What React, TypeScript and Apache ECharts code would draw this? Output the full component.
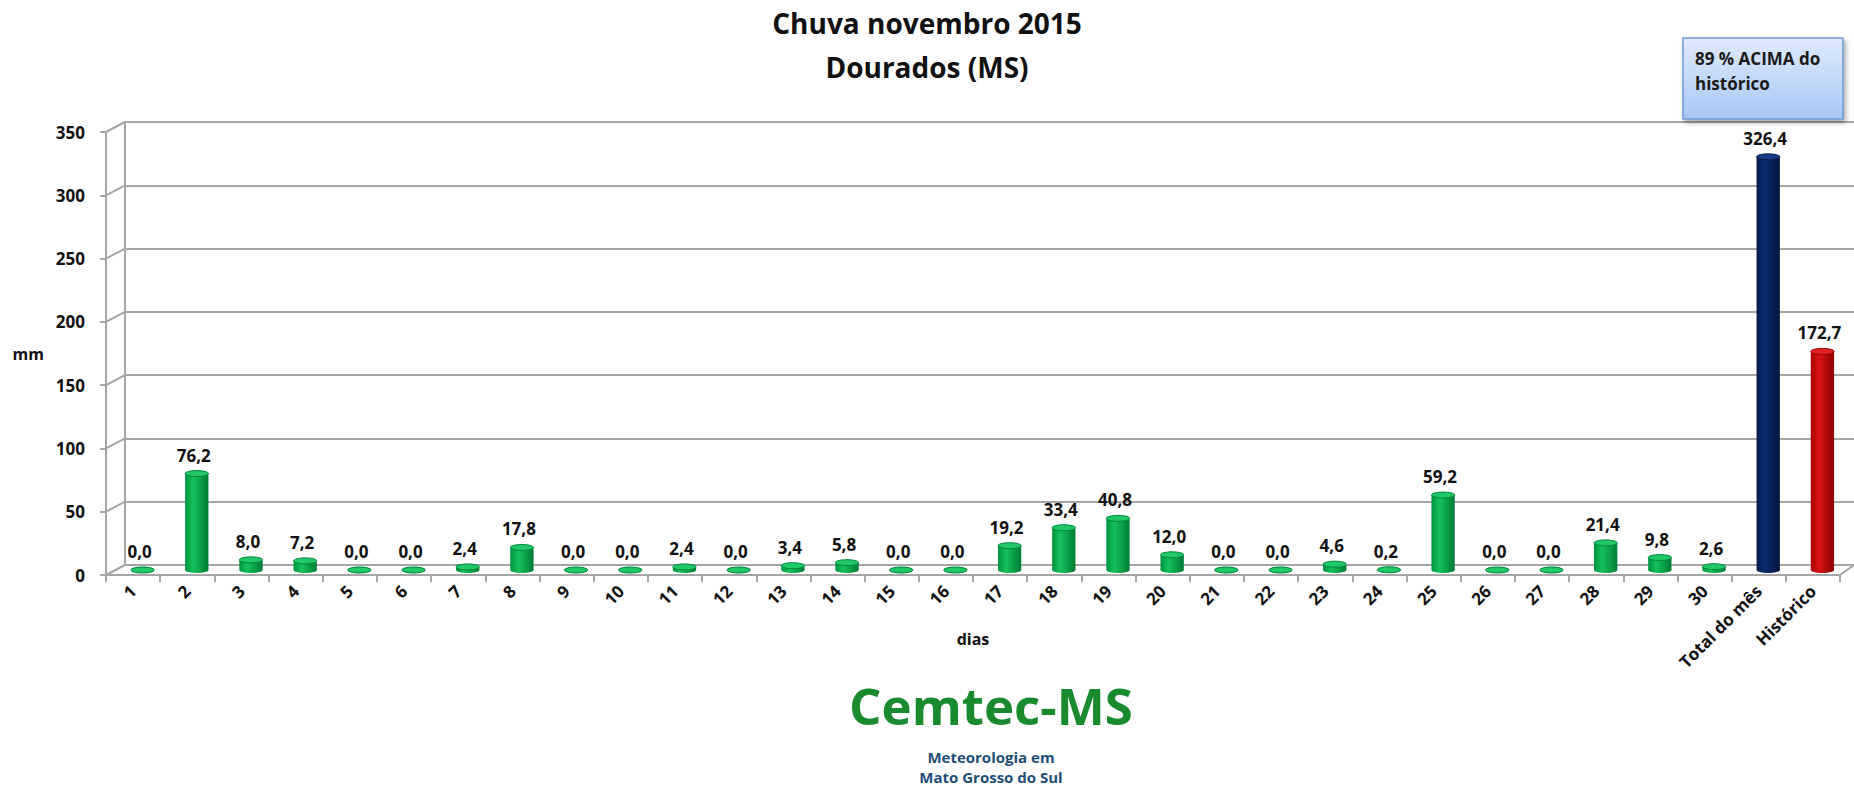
import React, { useEffect, useRef } from "react";
import * as echarts from "echarts";

const categories = [
  "1","2","3","4","5","6","7","8","9","10","11","12","13","14","15",
  "16","17","18","19","20","21","22","23","24","25","26","27","28","29","30",
  "Total do mês","Histórico",
];
const dailyRain = [
  0.0, 76.2, 8.0, 7.2, 0.0, 0.0, 2.4, 17.8, 0.0, 0.0, 2.4, 0.0, 3.4, 5.8, 0.0,
  0.0, 19.2, 33.4, 40.8, 12.0, 0.0, 0.0, 4.6, 0.2, 59.2, 0.0, 0.0, 21.4, 9.8, 2.6,
];
const monthTotal = 326.4;
const historical = 172.7;
const yTicks = [0, 50, 100, 150, 200, 250, 300, 350];

const FONT = "'Open Sans', 'Noto Sans', sans-serif";
const GRAY = "#a6a6a6";

const palettes: Record<string, string[]> = {
  green: ["#00923f", "#14c25c", "#007a34", "#1fc766", "#00853a"],
  navy: ["#001a4d", "#0b2d72", "#00143d", "#163a85", "#001844"],
  red: ["#a30000", "#d81414", "#8c0000", "#e02424", "#9a0000"],
};

const fmt = (v: number) => v.toFixed(1).replace(".", ",");

export default function App() {
  const ref = useRef<HTMLDivElement>(null);
  useEffect(() => {
    document.body.style.margin = "0";
    if (!ref.current) return;
    const chart = echarts.init(ref.current, null, { renderer: "svg" });

    const barData = [
      ...dailyRain.map((v, i) => [i, v, "green"]),
      [30, monthTotal, "navy"],
      [31, historical, "red"],
    ];

    const DX = 9.5;
    const DY = -5;
    const RY = 3;

    const renderBar = (params: any, api: any) => {
      const idx = api.value(0);
      const v = api.value(1);
      const key = barData[params.dataIndex][2] as string;
      const pal = palettes[key];
      const base = api.coord([idx, 0]);
      const top = api.coord([idx, v]);
      const w = api.size([1, 0])[0] * 0.43;
      const cx = base[0] + DX;
      const by = base[1] + DY;
      const ty = top[1] + DY;
      const grad = new echarts.graphic.LinearGradient(0, 0, 1, 0, [
        { offset: 0, color: pal[0] },
        { offset: 0.35, color: pal[1] },
        { offset: 1, color: pal[2] },
      ]);
      const children: any[] = [
        {
          type: "ellipse",
          shape: { cx, cy: by, rx: w / 2, ry: RY },
          style: { fill: grad },
        },
      ];
      if (by - ty > 0.5) {
        children.push({
          type: "rect",
          shape: { x: cx - w / 2, y: ty, width: w, height: by - ty },
          style: { fill: grad },
        });
      }
      children.push({
        type: "ellipse",
        shape: { cx, cy: ty, rx: w / 2, ry: RY },
        style: { fill: pal[3], stroke: pal[4], lineWidth: 1 },
      });
      children.push({
        type: "text",
        style: {
          text: fmt(v),
          x: cx - 3,
          y: ty - 10,
          align: "center",
          verticalAlign: "bottom",
          font: `bold 17px ${FONT}`,
          fill: "#111",
        },
      });
      return { type: "group", children };
    };

    const renderConnector = (params: any, api: any) => {
      const cs = params.coordSys;
      const v = api.value(1);
      const p = api.coord([0, v]);
      const children: any[] = [
        {
          type: "line",
          shape: { x1: cs.x, y1: p[1], x2: cs.x + 19, y2: p[1] - 10 },
          style: { stroke: GRAY, lineWidth: 2 },
        },
      ];
      if (v === 0) {
        children.push({
          type: "line",
          shape: {
            x1: cs.x + cs.width,
            y1: p[1],
            x2: cs.x + cs.width + 14,
            y2: p[1] - 10,
          },
          style: { stroke: GRAY, lineWidth: 2 },
        });
      }
      return { type: "group", children };
    };

    const option: any = {
      animation: false,
      backgroundColor: "#ffffff",
      title: {
        text: "Chuva novembro 2015\nDourados (MS)",
        left: "center",
        top: -4,
        textStyle: {
          fontFamily: FONT,
          fontWeight: "bold",
          fontSize: 28,
          lineHeight: 44,
          color: "#111",
        },
      },
      grid: [
        { left: 106, right: 14, top: 132, bottom: 212 },
        { left: 125, right: 0, top: 122, bottom: 222 },
      ],
      xAxis: [
        {
          type: "category",
          gridIndex: 0,
          data: categories,
          name: "dias",
          nameLocation: "middle",
          nameGap: 56,
          nameMoveOverlap: false,
          nameTextStyle: { fontFamily: FONT, fontWeight: "bold", fontSize: 16, color: "#111" },
          axisLine: { show: true, lineStyle: { color: GRAY, width: 2 } },
          axisTick: { show: true, length: 7, lineStyle: { color: GRAY, width: 2 } },
          axisLabel: {
            interval: 0,
            rotate: 45,
            margin: 13,
            fontFamily: FONT,
            fontWeight: "bold",
            fontSize: 17,
            color: "#111",
          },
          splitLine: { show: false },
        },
        {
          type: "category",
          gridIndex: 1,
          data: categories,
          show: false,
        },
      ],
      yAxis: [
        {
          type: "value",
          gridIndex: 0,
          min: 0,
          max: 350,
          interval: 50,
          name: "mm",
          nameLocation: "middle",
          nameRotate: 0,
          nameGap: 62,
          nameMoveOverlap: false,
          nameTextStyle: { fontFamily: FONT, fontWeight: "bold", fontSize: 16, color: "#111" },
          axisLine: { show: true, lineStyle: { color: GRAY, width: 2 } },
          axisTick: { show: true, length: 6, lineStyle: { color: GRAY, width: 2 } },
          axisLabel: {
            margin: 21,
            fontFamily: FONT,
            fontWeight: "bold",
            fontSize: 17,
            color: "#111",
          },
          splitLine: { show: false },
        },
        {
          type: "value",
          gridIndex: 1,
          min: 0,
          max: 350,
          interval: 50,
          axisLine: { show: true, lineStyle: { color: GRAY, width: 2 } },
          axisTick: { show: false },
          axisLabel: { show: false },
          splitLine: { show: true, lineStyle: { color: GRAY, width: 2 } },
        },
      ],
      series: [
        {
          type: "custom",
          xAxisIndex: 0,
          yAxisIndex: 0,
          data: yTicks.map((v) => [0, v]),
          renderItem: renderConnector,
          silent: true,
          z: 1,
        },
        {
          type: "custom",
          xAxisIndex: 0,
          yAxisIndex: 0,
          data: barData.map((d) => [d[0], d[1]]),
          renderItem: renderBar,
          encode: { x: 0, y: 1 },
          clip: false,
          z: 5,
        },
      ],
      graphic: [
        {
          type: "rect",
          z: 100,
          shape: { x: 1683, y: 38, width: 160, height: 81 },
          style: {
            fill: new echarts.graphic.LinearGradient(0, 0, 0, 1, [
              { offset: 0, color: "#dfeafc" },
              { offset: 1, color: "#a8c7f4" },
            ]),
            stroke: "#6f9ad8",
            lineWidth: 1.5,
            shadowBlur: 5,
            shadowOffsetX: 2,
            shadowOffsetY: 3,
            shadowColor: "rgba(0,0,0,0.35)",
          },
        },
        {
          type: "text",
          z: 101,
          style: {
            text: "89 % ACIMA do\nhistórico",
            x: 1695,
            y: 46,
            font: `bold 17px ${FONT}`,
            lineHeight: 25,
            fill: "#1a1a1a",
          },
        },
        {
          type: "text",
          z: 101,
          style: {
            text: "Cemtec-MS",
            x: 991,
            y: 705,
            align: "center",
            verticalAlign: "middle",
            font: `bold 51px ${FONT}`,
            fill: "#1a8a2e",
          },
        },
        {
          type: "text",
          z: 101,
          style: {
            text: "Meteorologia em\nMato Grosso do Sul",
            x: 991,
            y: 747,
            align: "center",
            verticalAlign: "top",
            font: `bold 15px ${FONT}`,
            lineHeight: 20,
            fill: "#1f4e79",
          },
        },
      ],
    };

    chart.setOption(option);
    return () => chart.dispose();
  }, []);

  return <div ref={ref} style={{ width: 1854, height: 787 }} />;
}
